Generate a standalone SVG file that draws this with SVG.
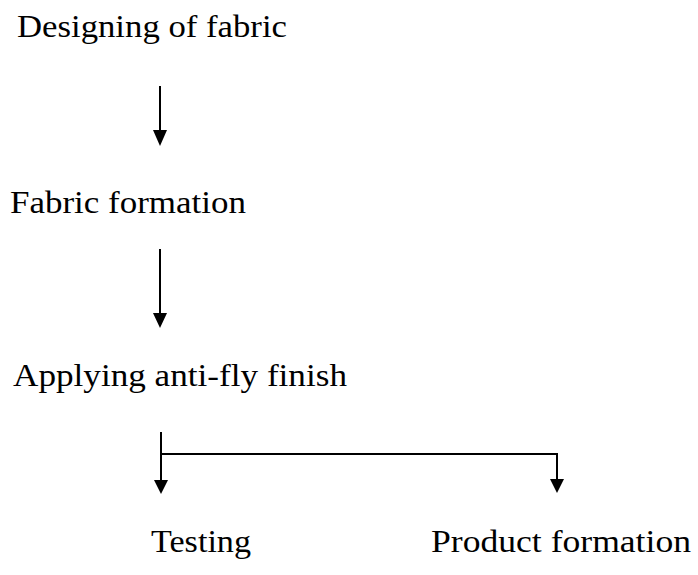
<svg xmlns="http://www.w3.org/2000/svg" width="698" height="575" viewBox="0 0 698 575">
  <defs>
    <style>
      text { font-family: "Liberation Serif", "Times New Roman", serif; font-size: 31px; fill: #000; }
      .link { fill: none; stroke: #000; stroke-width: 2; }
      .head { fill: #000; }
    </style>
  </defs>
  <rect width="698" height="575" fill="#fff"/>

  <!-- process steps -->
  <g id="node-design"><text x="17" y="37" textLength="270" lengthAdjust="spacingAndGlyphs">Designing of fabric</text></g>
  <g id="node-fabric"><text x="10" y="213" textLength="236" lengthAdjust="spacingAndGlyphs">Fabric formation</text></g>
  <g id="node-finish"><text x="13" y="386" textLength="334" lengthAdjust="spacingAndGlyphs">Applying anti-fly finish</text></g>
  <g id="node-testing"><text x="151" y="552" textLength="100" lengthAdjust="spacingAndGlyphs">Testing</text></g>
  <g id="node-product"><text x="431" y="552" textLength="260" lengthAdjust="spacingAndGlyphs">Product formation</text></g>

  <!-- flow arrows -->
  <g id="connectors">
    <line class="link" x1="160" y1="86" x2="160" y2="131"/>
    <path class="head" d="M153,130 L167,130 L160,146 Z"/>
    <line class="link" x1="160" y1="249" x2="160" y2="314"/>
    <path class="head" d="M153,313 L167,313 L160,328 Z"/>
    <line class="link" x1="161" y1="432" x2="161" y2="481"/>
    <path class="head" d="M154,480 L168,480 L161,494 Z"/>
    <polyline class="link" points="161,454 557,454 557,480"/>
    <path class="head" d="M550,479 L564,479 L557,493 Z"/>
  </g>
</svg>
